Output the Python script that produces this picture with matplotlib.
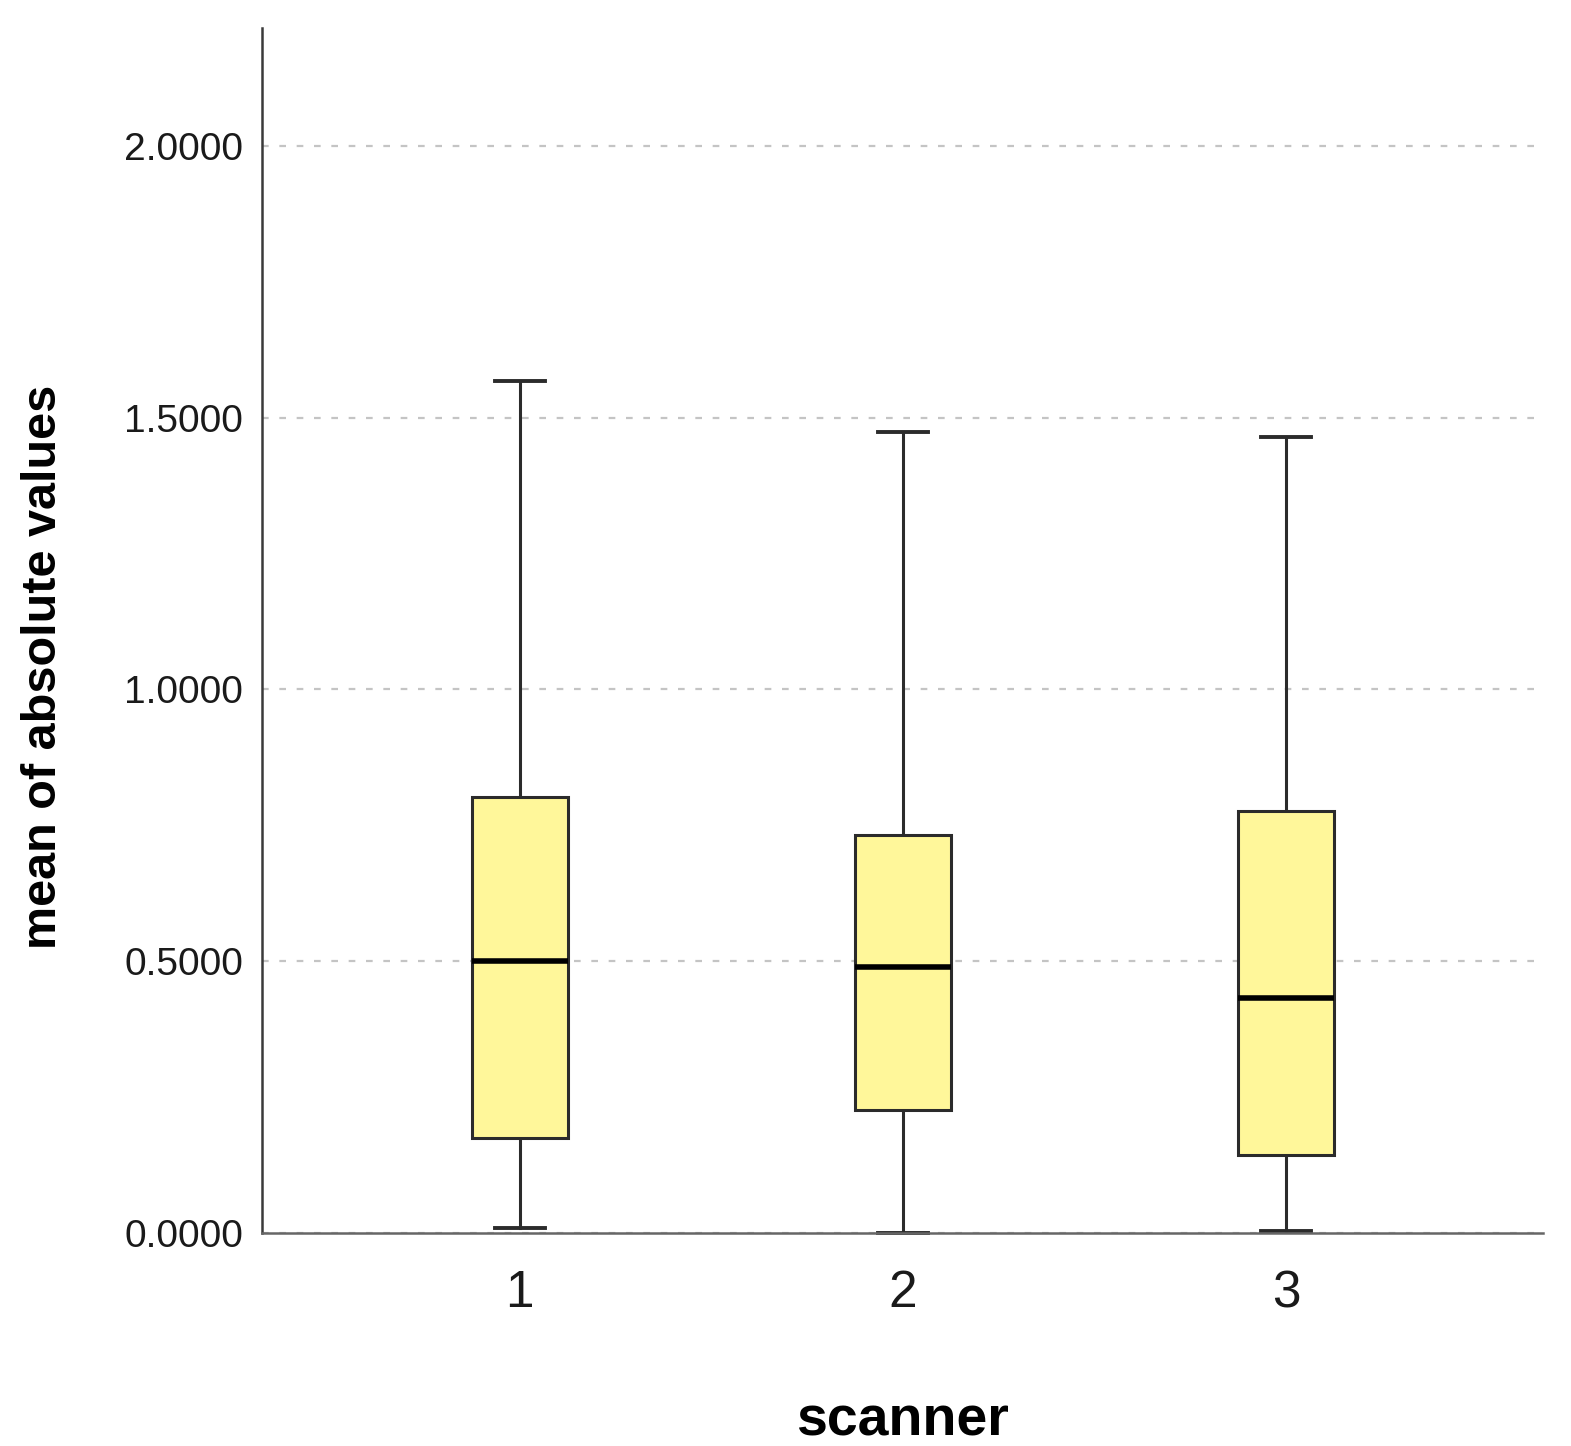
import matplotlib
matplotlib.use("Agg")
import matplotlib.pyplot as plt

# ---- data ----
categories = ["1", "2", "3"]
whisker_low = [0.009, 0.000, 0.003]
q1 = [0.175, 0.227, 0.144]
median = [0.501, 0.490, 0.433]
q3 = [0.802, 0.732, 0.776]
whisker_high = [1.567, 1.473, 1.465]
y_ticks = [0.0, 0.5, 1.0, 1.5, 2.0]
x_label = "scanner"
y_label = "mean of absolute values"

plt.rcParams['font.family'] = ['Liberation Sans', 'DejaVu Sans']

fig = plt.figure(figsize=(15.71, 14.46), dpi=100)
ax = fig.add_axes([0.167, 0.1473, 0.815, 0.8333])

stats = []
for i, c in enumerate(categories):
    stats.append(dict(label=c, whislo=whisker_low[i], q1=q1[i], med=median[i],
                      q3=q3[i], whishi=whisker_high[i], fliers=[]))

positions = list(range(1, len(categories) + 1))
bp = ax.bxp(stats, positions=positions, widths=0.25, patch_artist=True,
            showfliers=False, capwidths=0.13,
            boxprops=dict(facecolor='#fff79a', edgecolor='#2b2b2b', linewidth=2.2),
            medianprops=dict(color='#000000', linewidth=4.0, solid_capstyle='butt'),
            whiskerprops=dict(color='#2b2b2b', linewidth=2.2),
            capprops=dict(color='#2b2b2b', linewidth=2.8))
for cap in bp['caps']:
    cap.set_clip_on(False)
for b in bp['boxes']:
    b.set_zorder(3)
for m in bp['medians']:
    m.set_zorder(4)

ax.set_xlim(0.328, 3.67)
ax.set_ylim(0, 2.217)
ax.set_yticks(y_ticks)
ax.set_yticklabels(["{:.4f}".format(v) for v in y_ticks])
ax.set_xticks(positions)
ax.set_xticklabels(categories)

ax.yaxis.grid(True, color='#c4c4c4', linewidth=1.6, linestyle=(0, (3.0, 4.8)))
ax.set_axisbelow(True)

for s in ['top', 'right']:
    ax.spines[s].set_visible(False)
ax.spines['left'].set_color('#3a3a3a')
ax.spines['bottom'].set_color('#666666')
ax.spines['left'].set_linewidth(1.8)
ax.spines['bottom'].set_linewidth(1.8)

ax.tick_params(axis='y', length=0, pad=14, labelsize=28, labelcolor='#1a1a1a')
ax.tick_params(axis='x', length=0, pad=26, labelsize=37, labelcolor='#1a1a1a')

ax.set_xlabel(x_label, fontsize=40, fontweight='bold', labelpad=56)
ax.set_ylabel(y_label, fontsize=35, fontweight='bold')
# reference label sits a little below the axes centre
ax.yaxis.set_label_coords(-0.153, 0.47)

fig.savefig("out.png", dpi=100, facecolor='white')
